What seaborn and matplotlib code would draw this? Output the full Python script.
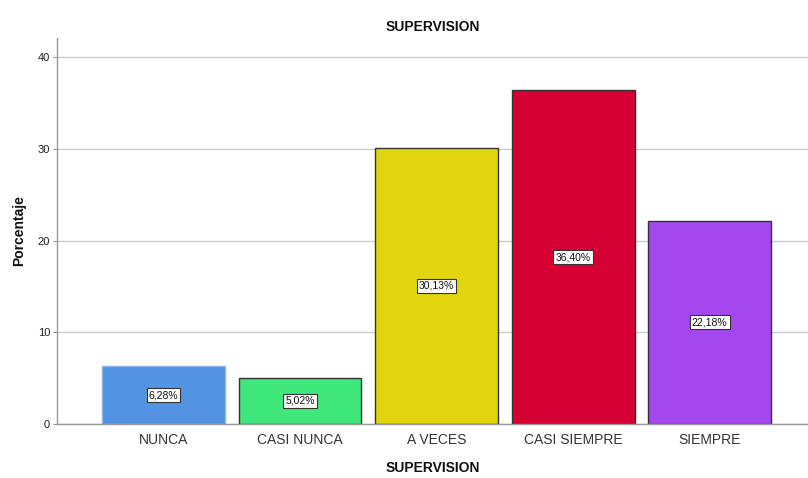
import matplotlib
matplotlib.use("Agg")
import matplotlib.pyplot as plt
import seaborn as sns
import pandas as pd

categories = ["NUNCA", "CASI NUNCA", "A VECES", "CASI SIEMPRE", "SIEMPRE"]
percentages = [6.28, 5.02, 30.13, 36.40, 22.18]
colors = ["#5294E2", "#40E87C", "#E1D60E", "#D60032", "#A447EE"]
y_ticks = [0, 10, 20, 30, 40]

df = pd.DataFrame({"cat": categories, "pct": percentages})

sns.set_style("white")
plt.rcParams["font.family"] = ["Liberation Sans", "DejaVu Sans"]

fig = plt.figure(figsize=(8.08, 4.78), dpi=100)
ax = fig.add_axes([0.0705, 0.113, 0.9295, 0.8075])

sns.barplot(data=df, x="cat", y="pct", hue="cat", palette=colors,
            order=categories, hue_order=categories, legend=False,
            width=0.9, edgecolor="#333333", linewidth=1.0, ax=ax,
            saturation=1)

# first bar has a light outline
ax.patches[0].set_edgecolor("#8AB6EC")

for i, (v, p) in enumerate(zip(percentages, ax.patches)):
    x = p.get_x() + p.get_width() / 2
    ax.text(x, v / 2, f"{v:.2f}%".replace(".", ","), ha="center", va="center",
            fontsize=7.5, color="#111111",
            bbox=dict(boxstyle="square,pad=0.2", facecolor="white",
                      edgecolor="#333333", linewidth=0.8))

ax.set_ylim(0, 42.1)
ax.set_xlim(-0.78, 4.72)
ax.set_yticks(y_ticks)
ax.yaxis.grid(True, color="#CCCCCC", linewidth=1)
ax.set_axisbelow(True)

for s in ["top", "right"]:
    ax.spines[s].set_visible(False)
for s in ["left", "bottom"]:
    ax.spines[s].set_color("#999999")
    ax.spines[s].set_linewidth(1)

ax.tick_params(axis="y", left=True, length=3, width=0.8, color="#999999",
               labelsize=8, labelcolor="#222222", pad=2)
ax.tick_params(axis="x", bottom=False, labelsize=10, labelcolor="#333333", pad=3)

ax.set_xlabel("SUPERVISION", fontsize=10, fontweight="bold", color="#111111", labelpad=10)
ax.set_ylabel("Porcentaje", fontsize=10, fontweight="bold", color="#111111", labelpad=8)
ax.set_title("SUPERVISION", fontsize=10, fontweight="bold", color="#111111", pad=5)

fig.savefig("out.png", dpi=100)
